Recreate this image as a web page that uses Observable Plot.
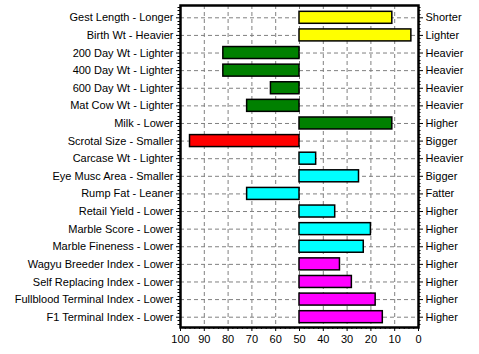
<!DOCTYPE html>
<html><head><meta charset="utf-8">
<script src="https://cdn.jsdelivr.net/npm/d3@7"></script>
<script src="https://cdn.jsdelivr.net/npm/@observablehq/plot@0.6"></script>
<style>body{margin:0;background:#fff}</style>
</head><body><div id="chart"></div>
<script>
const categories = ["Gest Length - Longer","Birth Wt - Heavier","200 Day Wt - Lighter","400 Day Wt - Lighter","600 Day Wt - Lighter","Mat Cow Wt - Lighter","Milk - Lower","Scrotal Size - Smaller","Carcase Wt - Lighter","Eye Musc Area - Smaller","Rump Fat - Leaner","Retail Yield - Lower","Marble Score - Lower","Marble Fineness - Lower","Wagyu Breeder Index - Lower","Self Replacing Index - Lower","Fullblood Terminal Index - Lower","F1 Terminal Index - Lower"];
const rightLabels = ["Shorter","Lighter","Heavier","Heavier","Heavier","Heavier","Higher","Bigger","Heavier","Bigger","Fatter","Higher","Higher","Higher","Higher","Higher","Higher","Higher"];
const values = [11, 3, 82, 82, 62, 72, 11, 96, 43, 25, 72, 35, 20, 23, 33, 28, 18, 15];
const groups = ["Yellow","Yellow","Green","Green","Green","Green","Green","Red","Cyan","Cyan","Cyan","Cyan","Cyan","Cyan","Magenta","Magenta","Magenta","Magenta"];
const groupNames = ["Yellow","Green","Red","Cyan","Magenta"];
const groupColors = ["#ffff00","#008000","#ff0000","#00ffff","#ff00ff"];
const xTicks = [100,90,80,70,60,50,40,30,20,10,0];
const xMinorTicks = d3.range(0,101,2);
const xGrid = [90,80,70,60,50,40,30,20,10];
const baseline = 50;

const data = categories.map((c,i)=>({trait:c, value:values[i], group:groups[i]}));
const rightMap = new Map(categories.map((c,i)=>[c,rightLabels[i]]));

const chart = Plot.plot({
  width:479, height:354, marginLeft:180, marginRight:61, marginTop:5, marginBottom:27,
  style:{fontFamily:"Arial, 'Liberation Sans', sans-serif", fontSize:"11px", color:"#000", background:"#fff", overflow:"visible"},
  x:{domain:[100,0], label:null},
  y:{type:"band", domain:categories, range:[8.5,325.5], paddingInner:0.32, paddingOuter:0.16, round:false, label:null},
  color:{domain:groupNames, range:groupColors},
  marks:[
    Plot.gridX({ticks:xGrid, stroke:"#808080", strokeOpacity:1, strokeDasharray:"4,3"}),
    Plot.gridY({stroke:"#808080", strokeOpacity:1, strokeDasharray:"4,3"}),
    Plot.barX(data,{x1:d=>baseline, x2:"value", y:"trait", fill:"group", stroke:"#000", strokeWidth:1.5}),
    Plot.frame({stroke:"#000", strokeWidth:2.5}),
    Plot.axisX({ticks:xTicks, tickSize:4, tickPadding:4, label:null}),
    Plot.axisX({ticks:xMinorTicks, tickSize:2, tickFormat:()=>"", label:null}),
    Plot.axisY({anchor:"left", tickSize:4, tickPadding:3, label:null}),
    Plot.axisY({anchor:"right", tickSize:4, tickPadding:3, tickFormat:d=>rightMap.get(d), label:null})
  ]
});
document.getElementById("chart").appendChild(chart);

// minor ticks on left and right axes, from the scales
(function(){
  const ys = chart.scale("y"), xs = chart.scale("x");
  const step = ys.step, c0 = ys.apply(categories[0]) + ys.bandwidth/2;
  const yTop = 5, yBottom = 354-27;
  const xl = xs.apply(100), xr = xs.apply(0);
  const g = d3.select(chart).append("g").attr("stroke","#000").attr("stroke-width",1);
  for (let k=-5; k<categories.length*5+5; k++) {
    if (k % 5 === 0) continue;
    const y = c0 + k*step/5;
    if (y < yTop+1 || y > yBottom-1) continue;
    const yy = Math.round(y)+0.5;
    g.append("line").attr("x1",xl-2.5).attr("x2",xl).attr("y1",yy).attr("y2",yy);
    g.append("line").attr("x1",xr).attr("x2",xr+2.5).attr("y1",yy).attr("y2",yy);
  }
})();
</script>
</body></html>
